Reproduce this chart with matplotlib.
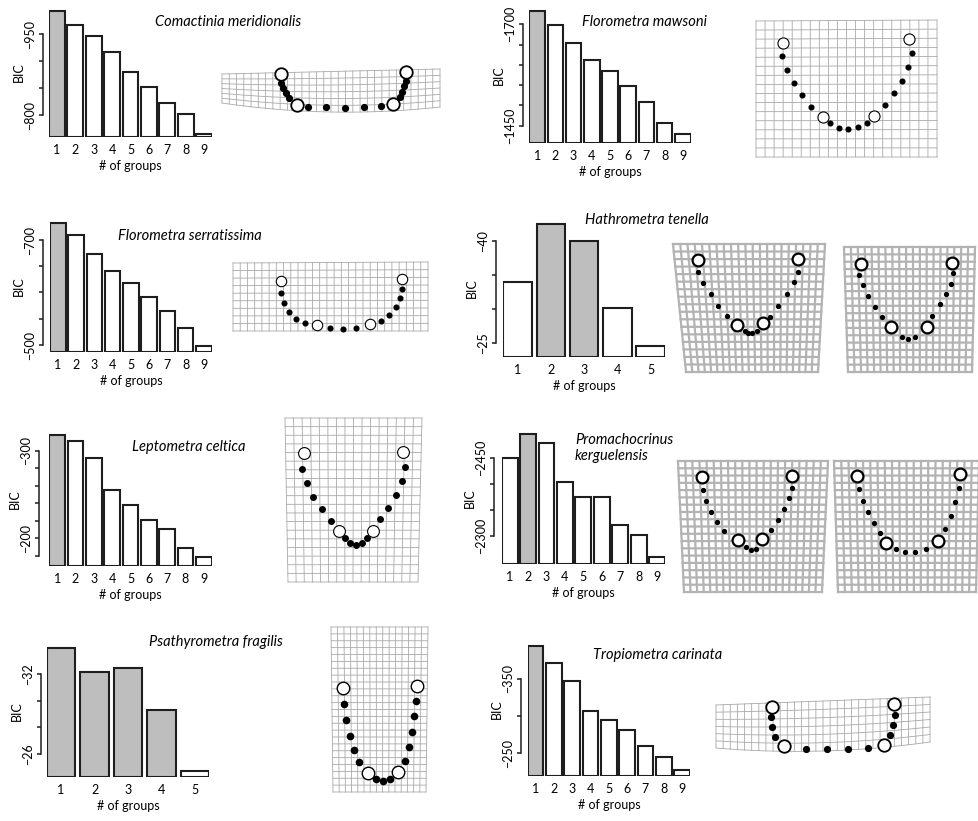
import matplotlib.pyplot as plt
import numpy as np

plt.rcParams['font.family'] = ['Lato', 'DejaVu Sans']

W, H = 979, 821

# BIC for 1..k groups, one list per species
comactinia_bic = [-993, -967, -946, -917, -880, -853, -822, -802, -765]
mawsoni_bic = [-1734, -1698, -1654, -1612, -1586, -1548, -1508, -1456, -1429]
serratissima_bic = [-732, -710, -674, -641, -618, -591, -565, -532, -498]
tenella_bic = [-33.9, -42.5, -39.9, -30.1, -24.6]
celtica_bic = [-318, -311, -292, -255, -238, -221, -211, -189, -179]
kerguelensis_bic = [-2451, -2496, -2479, -2405, -2376, -2375, -2321, -2301, -2260]
fragilis_bic = [-34.0, -32.2, -32.5, -29.3, -24.7]
carinata_bic = [-394, -371, -347, -307, -294, -281, -260, -245.5, -228]

# groups retained (grey bars), zero-based
comactinia_best = [0]
mawsoni_best = [0]
serratissima_best = [0]
tenella_best = [1, 2]
celtica_best = [0]
kerguelensis_best = [1]
fragilis_best = [0, 1, 2, 3]
carinata_best = [0]

# y-axis ticks
comactinia_ticks = [-950, -900, -850, -800]
mawsoni_ticks = [-1700, -1650, -1600, -1550, -1500, -1450]
serratissima_ticks = [-700, -650, -600, -550, -500]
tenella_ticks = [-40, -35, -30, -25]
celtica_ticks = [-300, -280, -260, -240, -220, -200, -180]
celtica_labelled = [-300, -200]
kerguelensis_ticks = [-2450, -2400, -2350, -2300]
fragilis_ticks = [-32, -30, -28, -26]
carinata_ticks = [-350, -300, -250]

# mean shapes: fixed landmarks (open) and sliding semilandmarks (filled)
comactinia_open = [(281, 74), (296.7, 105), (392.7, 104.3), (406, 71.7)]
comactinia_semi = [(281, 83.3), (283.3, 88.3), (286, 92.7), (289, 97.7),
                   (308.3, 107.3), (326, 107.3), (345, 107.7), (364.3, 107.3),
                   (380.7, 106), (400, 96.7), (402.3, 91.7), (404.3, 86),
                   (406, 80.7)]
mawsoni_open = [(783.3, 42.7), (909.3, 39.3), (822.7, 117), (874, 116)]
mawsoni_semi = [(782.3, 56), (786.7, 70), (794, 83), (802, 95.3), (811.3, 106.7),
                (830, 123.3), (838.7, 127.7), (848.3, 129.3), (858.3, 127.3),
                (867, 122.7), (885, 105.3), (894, 93.3), (902, 81),
                (908.3, 67.3), (912, 53.3)]
serratissima_open = [(281, 281), (402, 279), (317, 325), (370, 324)]
serratissima_semi = [(281, 293), (284, 303), (289, 312), (296, 319), (305, 323),
                     (330, 328), (343, 329), (356, 328), (381, 321), (389, 315),
                     (396, 307), (400, 298), (402, 289)]
tenella_a_open = [(697.7, 260), (797.7, 259), (736.7, 325), (763.3, 323.3)]
tenella_a_semi = [(698.3, 272.3), (703.3, 283.3), (710.7, 294.3), (718.3, 305.7),
                  (726.7, 316), (745, 330.7), (748.3, 333.3), (752.3, 333.3),
                  (756.7, 330.7), (770, 316.7), (778.3, 305.7), (786.7, 294),
                  (794, 282.3), (798.3, 271.7)]
tenella_b_open = [(861, 264), (952.3, 263.3), (891, 327.3), (926.7, 327.3)]
tenella_b_semi = [(859, 274.7), (863.3, 285), (868.3, 295.7), (875, 306.7),
                  (881.7, 316.7), (901.7, 337.3), (908.3, 339.3), (915, 337.3),
                  (932.3, 316), (940, 304.3), (946, 294.3), (950.7, 284),
                  (953.3, 273.3)]
celtica_open = [(304, 453.3), (402.7, 451.7), (339.3, 530.7), (372.7, 530.7)]
celtica_semi = [(302.3, 469.3), (306.7, 482.7), (313.3, 496.7), (321.7, 509.3),
                (330.7, 521), (345, 538.3), (350, 543.3), (356, 545),
                (361.7, 542.7), (367.3, 537.7), (380, 519.3), (387.7, 507.7),
                (395.7, 495.3), (402.3, 481), (405, 466.7)]
kerguelensis_a_open = [(702, 477), (792, 476), (738, 540), (762, 539)]
kerguelensis_a_semi = [(703, 490), (706, 501), (711, 512), (717, 522), (724, 531),
                       (746, 547), (751, 550), (756, 549), (771, 530), (778, 520),
                       (784, 509), (789, 498), (792, 488)]
kerguelensis_b_open = [(857, 476), (960, 474), (886, 543), (938, 541)]
kerguelensis_b_semi = [(859, 489), (863, 501), (868, 512), (874, 523), (880, 533),
                       (896, 549), (905, 552), (915, 552), (926, 549), (945, 529),
                       (951, 516), (955, 502), (959, 488)]
fragilis_open = [(343, 688), (417, 686), (368, 773), (398, 772)]
fragilis_semi = [(344, 704), (346, 720), (350, 736), (354, 750), (359, 762),
                 (376, 779), (383, 781), (390, 779), (405, 761), (409, 747),
                 (412, 732), (414, 716), (416, 701)]
carinata_open = [(772, 707), (894, 704), (784, 746), (884, 745)]
carinata_semi = [(771, 717), (772, 727), (775, 737), (806, 749), (827, 749),
                 (848, 749), (868, 748), (890, 735), (893, 725), (895, 715)]


def px_box(left, right, top, bottom):
    return [left / W, 1 - bottom / H, (right - left) / W, (bottom - top) / H]


def bic_panel(fig, bic, best, ticks, box, cal, spine_x, labelled=None):
    left, right, top, base = box
    (v0, p0), (v1, p1) = cal
    slope = (v1 - v0) / (p1 - p0)
    to_val = lambda p: v0 + (p - p0) * slope
    n = len(bic)
    w = 0.86
    ax = fig.add_axes(px_box(left, right, top, base))
    ax.set_xlim(1 - w / 2, n + w / 2)
    lo = to_val(base)
    ax.set_ylim(lo, to_val(top))
    x = np.arange(1, n + 1)
    colors = ['#bebebe' if i in best else 'white' for i in range(n)]
    ax.bar(x, np.array(bic) - lo, bottom=lo, width=w, color=colors,
           edgecolor='#1e1e1e', linewidth=1.5)
    for s in ['top', 'right', 'bottom']:
        ax.spines[s].set_visible(False)
    ax.spines['left'].set_bounds(ticks[0], ticks[-1])
    ax.spines['left'].set_position(('outward', (left - spine_x) * 0.72))
    ax.spines['left'].set_linewidth(1.1)
    ax.spines['left'].set_color('#1e1e1e')
    labelled = labelled or [ticks[0], ticks[-1]]
    ax.set_yticks(ticks)
    ax.set_yticklabels([str(t).replace('-', '\u2212') if t in labelled else ''
                        for t in ticks])
    ax.tick_params(axis='y', length=3, width=1.1, color='#1e1e1e', pad=2,
                   labelsize=9, labelrotation=90)
    for lbl in ax.get_yticklabels():
        lbl.set_va('center')
    ax.set_xticks(x)
    ax.set_xticklabels([str(i) for i in x])
    ax.tick_params(axis='x', length=0, pad=5, labelsize=9)
    ax.set_xlabel('# of groups', fontsize=9)
    ax.xaxis.set_label_coords(0.5, -23 / (base - top))
    ax.set_ylabel('BIC', fontsize=9)
    ax.yaxis.set_label_coords(-(left - spine_x + 18) / (right - left), 0.5)
    ax.patch.set_alpha(0)
    return ax


def draw_grid(ax, corners, ncol, nrow, sag=(0, 0), lw=0.6, color='#a9a9a9'):
    tl, tr, br, bl = [np.array(c, float) for c in corners]

    def warp(u, v):
        x = (1 - u) * (1 - v) * tl[0] + u * (1 - v) * tr[0] + u * v * br[0] + (1 - u) * v * bl[0]
        y = (1 - u) * (1 - v) * tl[1] + u * (1 - v) * tr[1] + u * v * br[1] + (1 - u) * v * bl[1]
        bump = 4 * u * (1 - u)
        y = y + (1 - v) * sag[0] * bump + v * sag[1] * bump
        return x, y

    t = np.linspace(0, 1, 80)
    for v in np.linspace(0, 1, nrow + 1):
        ax.plot(*warp(t, np.full_like(t, v)), color=color, lw=lw, zorder=1,
                snap=False)
    for u in np.linspace(0, 1, ncol + 1):
        ax.plot(*warp(np.full_like(t, u), t), color=color, lw=lw, zorder=1,
                snap=False)


def draw_shape(ax, opened, semi, big=9, small=5, ew=1.2):
    sx, sy = zip(*semi)
    ax.scatter(sx, sy, s=small ** 2, color='black', zorder=3, linewidths=0)
    ox, oy = zip(*opened)
    ax.scatter(ox, oy, s=big ** 2, facecolor='white', edgecolor='black',
               linewidths=ew, zorder=4)


fig = plt.figure(figsize=(W / 100, H / 100), dpi=100)
canvas = fig.add_axes([0, 0, 1, 1])
canvas.set_xlim(0, W)
canvas.set_ylim(H, 0)
canvas.axis('off')

thick = dict(lw=1.6, color='#b3b3b3')

# deformation grids
draw_grid(canvas, [(222, 74), (440, 69), (440, 107), (222, 103)], 30, 6, sag=(0, 7))
draw_shape(canvas, comactinia_open, comactinia_semi, big=9, small=5.2, ew=1.3)
draw_grid(canvas, [(756, 21), (937, 20), (937, 157), (756, 157)], 20, 15)
draw_shape(canvas, mawsoni_open, mawsoni_semi, big=8, small=4.4, ew=0.8)
draw_grid(canvas, [(233, 263), (428, 262), (428, 331), (233, 331)], 27, 9)
draw_shape(canvas, serratissima_open, serratissima_semi, big=7.5, small=4.4, ew=0.8)
draw_grid(canvas, [(673, 244), (825, 244), (818, 372), (686, 372)], 21, 17, **thick)
draw_shape(canvas, tenella_a_open, tenella_a_semi, big=8.5, small=3.8, ew=1.6)
draw_grid(canvas, [(844, 247), (975, 247), (972, 372), (848, 372)], 19, 17, **thick)
draw_shape(canvas, tenella_b_open, tenella_b_semi, big=8.5, small=3.8, ew=1.6)
draw_grid(canvas, [(285, 418), (422, 418), (418, 582), (288, 582)], 16, 19)
draw_shape(canvas, celtica_open, celtica_semi, big=8.5, small=5, ew=0.8)
draw_grid(canvas, [(678, 461), (828, 461), (822, 592), (684, 592)], 21, 18, **thick)
draw_shape(canvas, kerguelensis_a_open, kerguelensis_a_semi, big=8.5, small=3.8, ew=1.6)
draw_grid(canvas, [(834, 461), (979, 461), (976, 592), (838, 592)], 20, 18, **thick)
draw_shape(canvas, kerguelensis_b_open, kerguelensis_b_semi, big=8.5, small=3.8, ew=1.6)
draw_grid(canvas, [(331, 627), (428, 627), (426, 792), (333, 792)], 15, 24)
draw_shape(canvas, fragilis_open, fragilis_semi, big=9, small=5.5, ew=1.0)
draw_grid(canvas, [(716, 705), (930, 697), (930, 742), (716, 748)], 30, 6, sag=(0, 6))
draw_shape(canvas, carinata_open, carinata_semi, big=9, small=5.2, ew=1.3)

# species names
titles = [('Comactinia meridionalis', 155, 22), ('Florometra mawsoni', 582, 22),
          ('Florometra serratissima', 118, 236), ('Hathrometra tenella', 585, 220),
          ('Leptometra celtica', 132, 447), ('Promachocrinus\nkerguelensis', 575, 448),
          ('Psathyrometra fragilis', 149, 642), ('Tropiometra carinata', 593, 655)]
for name, tx, ty in titles:
    canvas.text(tx, ty, name, fontstyle='italic', fontsize=10.5, ha='left',
                va='center', linespacing=1.25)

bic_panel(fig, comactinia_bic, comactinia_best, comactinia_ticks,
          (49, 212, 8, 137), ((-950, 34.3), (-800, 115.3)), 43)
bic_panel(fig, mawsoni_bic, mawsoni_best, mawsoni_ticks,
          (529.3, 690.7, 8, 142.7), ((-1700, 24.3), (-1450, 125.7)), 522.7)
bic_panel(fig, serratissima_bic, serratissima_best, serratissima_ticks,
          (50, 211.7, 220, 352), ((-700, 240), (-500, 345)), 42.7)
bic_panel(fig, tenella_bic, tenella_best, tenella_ticks,
          (503.3, 665, 220, 357), ((-40, 240.7), (-25, 343.3)), 496)
bic_panel(fig, celtica_bic, celtica_best, celtica_ticks,
          (49.3, 211.7, 432, 565.7), ((-300, 450.7), (-200, 538.3)), 39.3,
          labelled=celtica_labelled)
bic_panel(fig, kerguelensis_bic, kerguelensis_best, kerguelensis_ticks,
          (501.7, 665, 432, 564), ((-2450, 458.3), (-2300, 536)), 494.3)
bic_panel(fig, fragilis_bic, fragilis_best, fragilis_ticks,
          (46.7, 209.3, 645, 776.7), ((-32, 674.3), (-26, 754)), 41)
bic_panel(fig, carinata_bic, carinata_best, carinata_ticks,
          (527.7, 690, 643, 776), ((-350, 678.7), (-250, 753.3)), 521)

fig.savefig('out.png', dpi=100)
